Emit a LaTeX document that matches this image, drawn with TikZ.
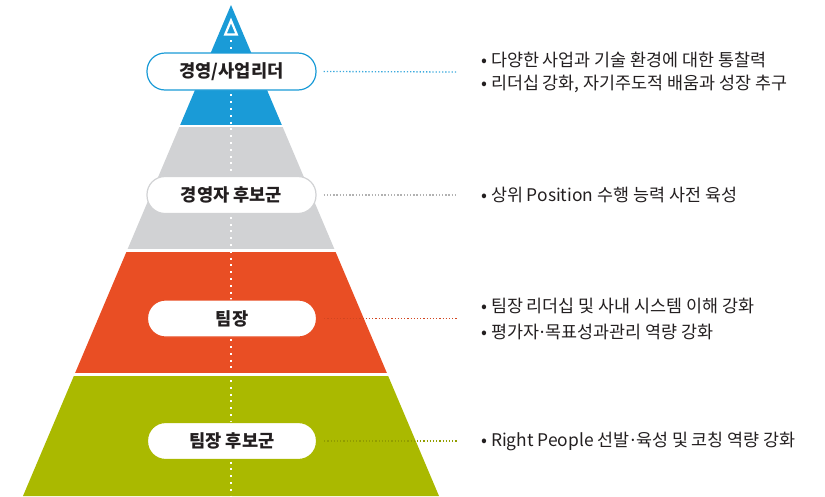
\documentclass[tikz,border=0pt]{standalone}
\usepackage{fontspec}
\setmainfont{Noto Sans CJK KR}
\newfontfamily\latdot{Noto Sans}
\newcommand{\mdot}{\hspace{0.05em}{\latdot ·}\hspace{0.05em}}
\definecolor{pblue}{HTML}{1A9BD7}
\definecolor{pgray}{HTML}{D1D2D4}
\definecolor{pred}{HTML}{E94E24}
\definecolor{pgreen}{HTML}{AAB900}
\definecolor{ptext}{HTML}{231F20}
\tikzset{
  pill/.style={fill=white, rounded corners=18pt, minimum width=169pt, minimum height=37pt,
    inner sep=0pt, font=\fontsize{17.6pt}{19pt}\selectfont\bfseries, text=ptext, line width=1.2pt},
  conn/.style={line width=1.3pt, dash pattern=on 1.3pt off 1.9pt},
  bullet/.style={anchor=west, inner sep=0pt, font=\fontsize{17.4pt}{19pt}\selectfont, text=ptext},
  axis/.style={white, line width=2pt, dash pattern=on 2pt off 4.8pt}
}
\begin{document}
\begin{tikzpicture}[x=1pt,y=-1pt]
\useasboundingbox (0,0) rectangle (825,496);
\begin{scope}
  \clip (231,5) -- (439,496) -- (23,496) -- cycle;
  \fill[pblue]  (0,0)     rectangle (825,125.3);
  \fill[pgray]  (0,127.4) rectangle (825,249.4);
  \fill[pred]   (0,251.7) rectangle (825,373.4);
  \fill[pgreen] (0,375.9) rectangle (825,500);
\end{scope}
% arrow head at top
\draw[white, line width=2.2pt, line join=miter] (231,20.5) -- (236.8,34.5) -- (225.2,34.5) -- cycle;
\coordinate (axtop) at (231,40);
\coordinate (axbot) at (231,496);
\draw[axis] (axtop) -- (axbot);
% pills
\node[pill, draw=pblue] (p1) at (231.5,71.5) {경영/사업리더};
\node[pill, draw=pgray] (p2) at (231.5,195) {경영자 후보군};
\node[pill, draw=pred] (p3) at (232,318.5) {팀장};
\node[pill, draw=pgreen] (p4) at (232,441) {팀장 후보군};
% connector ends
\coordinate (e1) at (457,72);
\coordinate (e2) at (457,195);
\coordinate (e3) at (457,318.5);
\coordinate (e4) at (457,441);
\draw[conn, pblue!85] ([xshift=7pt]p1.east) -- (e1);
\draw[conn, black!30] ([xshift=7pt]p2.east) -- (e2);
\draw[conn, pred!90!black] ([xshift=7pt]p3.east) -- (e3);
\draw[conn, pgreen!85!black] ([xshift=7pt]p4.east) -- (e4);
% texts
\node[bullet] (t1a) at (481,59.5) {• 다양한 사업과 기술 환경에 대한 통찰력};
\node[bullet] (t1b) at (481,84) {• 리더십 강화, 자기주도적 배움과 성장 추구};
\node[bullet] (t2) at (481,195) {• 상위 Position 수행 능력 사전 육성};
\node[bullet] (t3a) at (481,305.5) {• 팀장 리더십 및 사내 시스템 이해 강화};
\node[bullet] (t3b) at (481,332) {• 평가자\mdot 목표성과관리 역량 강화};
\node[bullet] (t4) at (481,441) {• Right People 선발\mdot 육성 및 코칭 역량 강화};
\end{tikzpicture}
\end{document}
